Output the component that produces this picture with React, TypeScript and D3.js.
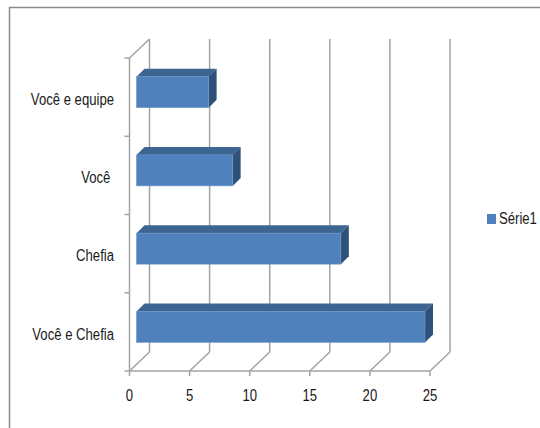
import React from "react";
import * as d3 from "d3";

const categories = ["Você e equipe", "Você ", "Chefia", "Você e Chefia"];
const values = [6, 8, 17, 24];
const xTicks = [0, 5, 10, 15, 20, 25];
const seriesName = "Série1";

const W = 540;
const H = 428;
// oblique offset of the back wall relative to the front plane
const DX = 20;
const DY = -19;
// bar placement inside the depth of the plot box
const BAR_FRONT_DX = 7;
const BAR_DEPTH = 8;
const BAR_H = 31;
const BAR_SHIFT_Y = -5;

const FONT = "'Liberation Sans', Arial, sans-serif";
const FONT_SIZE = 16;
const SQUEEZE = 0.82; // condensed lettering
const GRID = "#a3a3a3";
const INK = "#1a1a1a";

type LabelProps = {
  x: number;
  y: number;
  anchor: "start" | "middle" | "end";
  children: React.ReactNode;
};

function Label({ x, y, anchor, children }: LabelProps) {
  return (
    <text
      transform={`translate(${x},${y}) scale(${SQUEEZE},1)`}
      textAnchor={anchor}
      dominantBaseline="middle"
      fontFamily={FONT}
      fontSize={FONT_SIZE}
      fill={INK}
      style={{ whiteSpace: "pre" }}
    >
      {children}
    </text>
  );
}

export default function App() {
  const x = d3.scaleLinear().domain([0, 25]).range([129.5, 430]);
  const y = d3.scaleBand<string>().domain(categories).range([58, 371]);
  const x0 = x(0);
  const yTop = y.range()[0];
  const yBot = y.range()[1];

  return (
    <svg
      width={W}
      height={H}
      style={{ position: "absolute", left: 0, top: 0, background: "#fff" }}
    >
      {/* outer frame */}
      <path d={`M9.5,${H} V7.5 H${W}`} fill="none" stroke="#8a8a8a" strokeWidth={1.5} />

      {/* back wall gridlines and floor diagonals */}
      {xTicks.map((t) => (
        <g key={"g" + t}>
          <line x1={x(t) + DX} x2={x(t) + DX} y1={yBot + DY} y2={yTop + DY} stroke={GRID} strokeWidth={1.5} />
          <line x1={x(t)} x2={x(t) + DX} y1={yBot} y2={yBot + DY} stroke={GRID} strokeWidth={1.5} />
          <line x1={x(t)} x2={x(t)} y1={yBot} y2={yBot + 5} stroke={GRID} strokeWidth={1.5} />
        </g>
      ))}
      {/* left wall top edge */}
      <line x1={x0} x2={x0 + DX} y1={yTop} y2={yTop + DY} stroke={GRID} strokeWidth={1.5} />
      {/* front axes */}
      <line x1={x0} x2={x0} y1={yTop} y2={yBot} stroke={GRID} strokeWidth={1.5} />
      <line x1={x0} x2={x(25)} y1={yBot} y2={yBot} stroke={GRID} strokeWidth={1.5} />
      {[...categories.map((c) => y(c)!), yBot].map((yy, i) => (
        <line key={"lt" + i} x1={x0 - 5} x2={x0} y1={yy} y2={yy} stroke={GRID} strokeWidth={1.5} />
      ))}

      {/* bars */}
      {categories.map((c, i) => {
        const cy = y(c)! + y.bandwidth() / 2 + BAR_SHIFT_Y;
        const top = cy - BAR_H / 2;
        const bot = cy + BAR_H / 2;
        const left = x0 + BAR_FRONT_DX;
        const right = x(values[i]) + BAR_FRONT_DX;
        const d = BAR_DEPTH;
        return (
          <g key={"b" + c}>
            <path
              d={`M${left},${top} L${left + d},${top - d} L${right + d},${top - d} L${right},${top} Z`}
              fill="#3c6592"
            />
            <path
              d={`M${right},${top} L${right + d},${top - d} L${right + d},${bot - d} L${right},${bot} Z`}
              fill="#2f5179"
            />
            <rect x={left} y={top} width={right - left} height={BAR_H} fill="#4f81bd" stroke="#6d97ca" strokeWidth={0.6} />
          </g>
        );
      })}

      {/* category labels */}
      {categories.map((c) => (
        <Label key={"l" + c} x={114} y={y(c)! + y.bandwidth() / 2 + 3.5} anchor="end">
          {c}
        </Label>
      ))}

      {/* value axis labels */}
      {xTicks.map((t) => (
        <Label key={"t" + t} x={x(t)} y={397} anchor="middle">
          {t}
        </Label>
      ))}

      {/* legend */}
      <rect x={487} y={214} width={9} height={10} fill="#4f81bd" />
      <Label x={499} y={219.5} anchor="start">
        {seriesName}
      </Label>
    </svg>
  );
}
